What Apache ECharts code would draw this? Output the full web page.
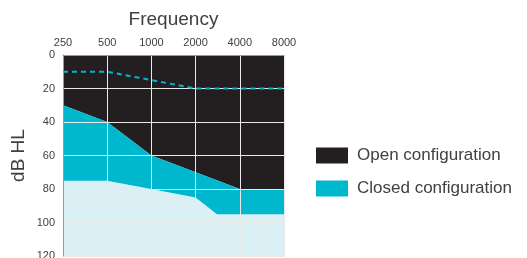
<!DOCTYPE html>
<html>
<head>
<meta charset="utf-8">
<script src="https://cdn.jsdelivr.net/npm/echarts@6/dist/echarts.min.js"></script>
<style>
  html, body { margin: 0; padding: 0; background: #fff; }
  #chart { width: 527px; height: 258px; }
</style>
</head>
<body>
<div id="chart"></div>
<script>
// frequency ticks (Hz), one octave apart
const freqTicks = [250, 500, 1000, 2000, 4000, 8000];
const dbTicks = [0, 20, 40, 60, 80, 100, 120];

// dashed reference curve
const dashFreq = [250, 500, 1000, 2000, 4000, 8000];
const dashDb = [10, 10, 15, 20, 20, 20];

// limit of the open configuration (black above)
const openFreq = [250, 500, 1000, 2000, 4000, 8000];
const openDb = [30, 40, 60, 70, 80, 80];

// limit of the closed configuration (cyan down to here)
const closedFreq = [250, 500, 1000, 2000, 2800, 4000, 8000];
const closedDb = [75, 75, 80, 85, 95, 95, 95];

const BLACK = '#231f20';
const CYAN = '#00b8cd';
const LIGHT = '#daf0f5';
const TEXT = '#404040';
const FONT = '"Liberation Sans", Arial, sans-serif';

// octave position from 250 Hz
const oct = f => Math.log2(f / freqTicks[0]);
const pts = (fs, ds) => fs.map((f, i) => [oct(f), ds[i]]);

const chart = echarts.init(document.getElementById('chart'));

chart.setOption({
    animation: false,
    textStyle: {fontFamily: FONT},
    grid: {left: 63, right: 243, top: 55, bottom: 2, outerBoundsMode: 'none'},
    legend: {
        left: 311,
        top: 142,
        orient: 'vertical',
        icon: 'rect',
        itemWidth: 32,
        itemHeight: 16,
        itemGap: 16,
        data: ['Open configuration', 'Closed configuration'],
        textStyle: {color: TEXT, fontSize: 17, fontFamily: FONT, padding: [0, 0, 0, 4]}
    },
    xAxis: {
        type: 'value',
        position: 'top',
        min: 0,
        max: freqTicks.length - 1,
        interval: 1,
        z: 5,
        name: 'Frequency',
        nameLocation: 'middle',
        nameGap: 35,
        nameTextStyle: {color: TEXT, fontSize: 19, verticalAlign: 'middle'},
        axisLine: {show: true, lineStyle: {color: '#999', width: 1}},
        axisTick: {show: false},
        axisLabel: {
            color: TEXT, fontSize: 11, margin: 7,
            formatter: v => freqTicks[v]
        },
        splitLine: {show: true, lineStyle: {color: '#e8e8e8', width: 1}}
    },
    yAxis: {
        type: 'value',
        inverse: true,
        min: dbTicks[0],
        max: dbTicks[dbTicks.length - 1],
        interval: 20,
        z: 5,
        name: 'dB HL',
        nameLocation: 'middle',
        nameRotate: 90,
        nameGap: 44,
        nameTextStyle: {color: TEXT, fontSize: 19, verticalAlign: 'middle'},
        axisLine: {show: true, lineStyle: {color: '#999', width: 1}},
        axisTick: {show: false},
        axisLabel: {color: TEXT, fontSize: 11, margin: 8},
        splitLine: {show: true, lineStyle: {color: '#e8e8e8', width: 1}}
    },
    series: [
        {
            name: 'Open configuration',
            type: 'line',
            data: pts(openFreq, openDb),
            symbol: 'none',
            lineStyle: {width: 0},
            itemStyle: {color: BLACK},
            areaStyle: {color: BLACK, opacity: 1, origin: 'start'},
            z: 1
        },
        {
            name: 'Closed configuration',
            type: 'line',
            data: pts(openFreq, openDb),
            symbol: 'none',
            lineStyle: {width: 0},
            itemStyle: {color: CYAN},
            areaStyle: {color: CYAN, opacity: 1, origin: 'end'},
            z: 1
        },
        {
            name: 'below',
            type: 'line',
            data: pts(closedFreq, closedDb),
            symbol: 'none',
            lineStyle: {width: 0},
            itemStyle: {color: LIGHT},
            areaStyle: {color: LIGHT, opacity: 1, origin: 'end'},
            z: 2
        },
        {
            name: 'dashed',
            type: 'line',
            data: pts(dashFreq, dashDb),
            symbol: 'none',
            lineStyle: {color: CYAN, width: 2, type: [5, 4]},
            z: 6
        }
    ]
});
</script>
</body>
</html>
